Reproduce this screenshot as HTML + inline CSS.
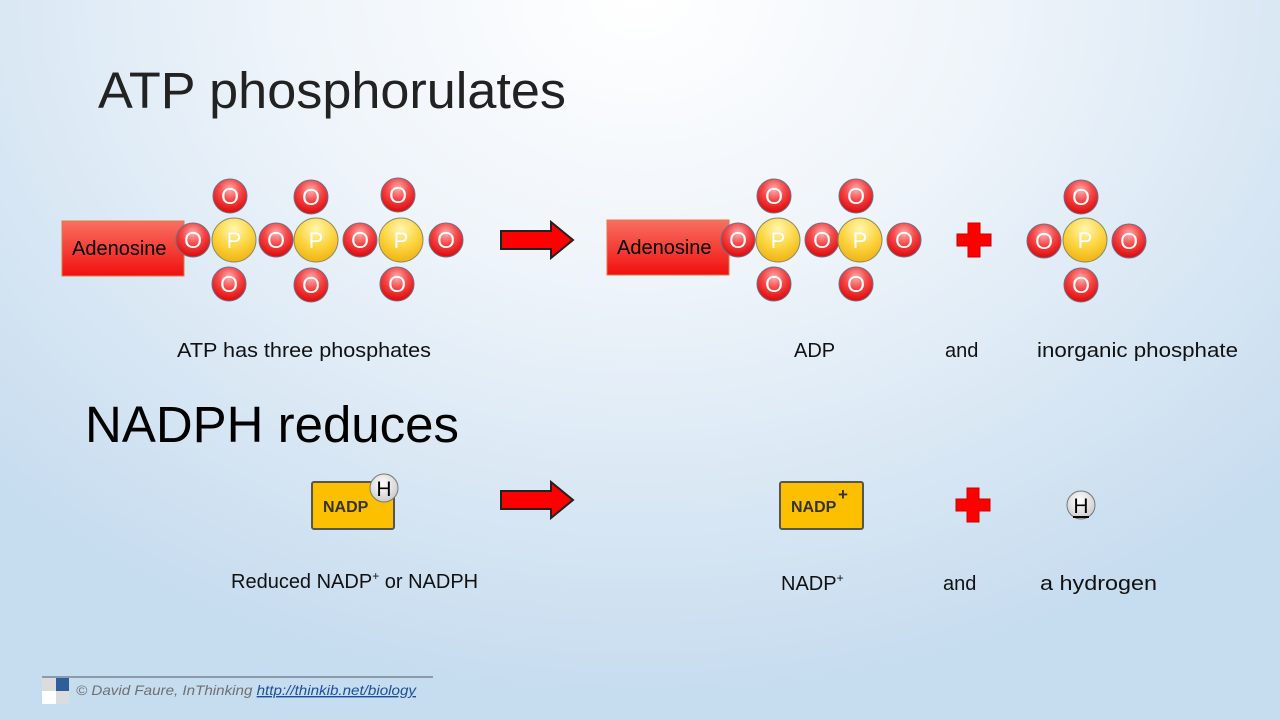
<!DOCTYPE html>
<html><head><meta charset="utf-8"><style>
html,body{margin:0;padding:0}
body{width:1280px;height:720px;overflow:hidden;background:radial-gradient(ellipse 900px 700px at 640px 0px,#ffffff 0%,#eef4fa 40%,#c6dcef 100%);font-family:"Liberation Sans",sans-serif}
svg{position:absolute;left:0;top:0}
</style></head><body>
<svg width="1280" height="720" viewBox="0 0 1280 720">
<defs>
<radialGradient id="go" cx="50%" cy="30%" r="65%"><stop offset="0" stop-color="#ffb0b0"/><stop offset="0.5" stop-color="#f54848"/><stop offset="1" stop-color="#e01010"/></radialGradient>
<radialGradient id="gp" cx="50%" cy="25%" r="70%"><stop offset="0" stop-color="#fff6b0"/><stop offset="0.6" stop-color="#fcd440"/><stop offset="1" stop-color="#f2b818"/></radialGradient>
<linearGradient id="ga" x1="0" y1="0" x2="0" y2="1"><stop offset="0" stop-color="#f87060"/><stop offset="1" stop-color="#f01010"/></linearGradient>
<radialGradient id="gh" cx="45%" cy="35%" r="70%"><stop offset="0" stop-color="#ffffff"/><stop offset="1" stop-color="#c8c8c8"/></radialGradient>
<g id="O"><circle r="17" fill="url(#go)" stroke="#6b6f8a" stroke-width="1"/><text y="8" text-anchor="middle" font-size="23" fill="#fff">O</text></g>
<g id="P"><circle r="22" fill="url(#gp)" stroke="#8a8a6a" stroke-width="1"/><text y="8" text-anchor="middle" font-size="22" fill="#fff">P</text></g>
<g id="arr"><polygon points="0,9 50,9 50,0 72,18 50,36 50,27 0,27" fill="#f00" stroke="#222" stroke-width="2"/></g>
<g id="plus"><path d="M-6,-17 H6 V-6 H17 V6 H6 V17 H-6 V6 H-17 V-6 H-6 Z" fill="#f00" stroke="#c00" stroke-width="1"/></g>
</defs>

<text x="98" y="108" font-size="51" fill="#222" font-weight="300" textLength="468" lengthAdjust="spacingAndGlyphs">ATP phosphorulates</text>
<text x="85" y="442" font-size="51" fill="#000" textLength="374" lengthAdjust="spacingAndGlyphs">NADPH reduces</text>

<!-- ATP -->
<rect x="62" y="221" width="122" height="55" fill="url(#ga)" stroke="#e07a40" stroke-width="1"/>
<text x="72" y="255" font-size="20" fill="#000">Adenosine</text>
<use href="#O" x="193" y="240"/><use href="#O" x="276" y="240"/><use href="#O" x="360" y="240"/><use href="#O" x="446" y="240"/>
<use href="#P" x="234" y="240"/><use href="#P" x="316" y="240"/><use href="#P" x="401" y="240"/>
<use href="#O" x="230" y="196"/><use href="#O" x="311" y="197"/><use href="#O" x="398" y="195"/>
<use href="#O" x="229" y="284"/><use href="#O" x="311" y="285"/><use href="#O" x="397" y="284"/>

<use href="#arr" x="501" y="222"/>

<!-- ADP -->
<rect x="607" y="220" width="122" height="55" fill="url(#ga)" stroke="#e07a40" stroke-width="1"/>
<text x="617" y="254" font-size="20" fill="#000">Adenosine</text>
<use href="#O" x="738" y="240"/><use href="#O" x="822" y="240"/><use href="#O" x="904" y="240"/>
<use href="#P" x="778" y="240"/><use href="#P" x="860" y="240"/>
<use href="#O" x="774" y="196"/><use href="#O" x="856" y="196"/>
<use href="#O" x="774" y="284"/><use href="#O" x="856" y="284"/>

<use href="#plus" x="974" y="240"/>

<use href="#O" x="1044" y="241"/><use href="#O" x="1129" y="241"/>
<use href="#P" x="1085" y="240"/>
<use href="#O" x="1081" y="197"/><use href="#O" x="1081" y="285"/>

<text x="177" y="357" font-size="20" fill="#111" textLength="254" lengthAdjust="spacingAndGlyphs">ATP has three phosphates</text>
<text x="794" y="357" font-size="20" fill="#111">ADP</text>
<text x="945" y="357" font-size="20" fill="#111">and</text>
<text x="1037" y="357" font-size="20" fill="#111" textLength="201" lengthAdjust="spacingAndGlyphs">inorganic phosphate</text>

<!-- NADPH -->
<rect x="312" y="482" width="82" height="47" rx="2" fill="#fcc000" stroke="#555" stroke-width="2"/>
<text x="323" y="512" font-size="16" font-weight="bold" fill="#333">NADP</text>
<circle cx="384" cy="488" r="14" fill="url(#gh)" stroke="#777" stroke-width="1"/>
<text x="384" y="496" text-anchor="middle" font-size="21" fill="#000">H</text>

<use href="#arr" x="501" y="482"/>

<rect x="780" y="482" width="83" height="47" rx="2" fill="#fcc000" stroke="#555" stroke-width="2"/>
<text x="791" y="512" font-size="16" font-weight="bold" fill="#333">NADP</text>
<text x="838" y="500" font-size="17" font-weight="bold" fill="#333">+</text>

<use href="#plus" x="973" y="505"/>

<circle cx="1081" cy="505" r="14" fill="url(#gh)" stroke="#777" stroke-width="1"/>
<text x="1081" y="513" text-anchor="middle" font-size="21" fill="#000">H</text>
<line x1="1073" y1="517" x2="1089" y2="517" stroke="#000" stroke-width="2"/>

<text x="231" y="588" font-size="20" fill="#111">Reduced NADP<tspan font-size="12" dy="-8">+</tspan><tspan dy="8">  or NADPH</tspan></text>
<text x="781" y="590" font-size="20" fill="#111">NADP<tspan font-size="12" dy="-8">+</tspan></text>
<text x="943" y="590" font-size="20" fill="#111">and</text>
<text x="1040" y="590" font-size="20" fill="#111" textLength="117" lengthAdjust="spacingAndGlyphs">a  hydrogen</text>

<!-- footer -->
<line x1="42" y1="677" x2="433" y2="677" stroke="#505a6a" stroke-width="1"/>
<rect x="42" y="678" width="14" height="13" fill="#dcdcdc"/>
<rect x="56" y="678" width="13" height="13" fill="#2e5f98"/>
<rect x="42" y="691" width="14" height="13" fill="#ffffff"/>
<rect x="56" y="691" width="13" height="13" fill="#dcdcdc"/>
<text x="76" y="695" font-size="14" font-style="italic" fill="#707070" textLength="340" lengthAdjust="spacingAndGlyphs">© David Faure, InThinking <tspan fill="#1a4f9a" text-decoration="underline">http://thinkib.net/biology </tspan></text>
</svg>
</body></html>
